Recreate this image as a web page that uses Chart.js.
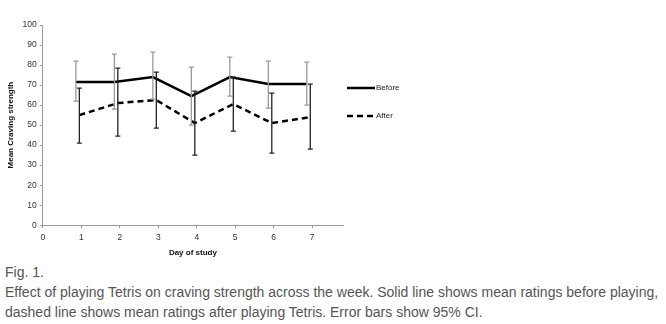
<!DOCTYPE html>
<html>
<head>
<meta charset="utf-8">
<script src="https://cdn.jsdelivr.net/npm/chart.js@4.4.0/dist/chart.umd.min.js"></script>
<style>
  body { margin: 0; background: #fff; width: 666px; height: 324px; overflow: hidden; }
  #wrap { position: relative; width: 666px; height: 262px; }
  .caption { font-family: "Liberation Sans", Arial, sans-serif; font-size: 14px; color: #555;
             line-height: 20px; margin: 0 0 0 5px; letter-spacing: 0; }
</style>
</head>
<body>
<div id="wrap"><canvas id="chart" width="666" height="262"></canvas></div>
<p class="caption">Fig. 1.<br>Effect of playing Tetris on craving strength across the week. Solid line shows mean ratings before playing,<br>dashed line shows mean ratings after playing Tetris. Error bars show 95% CI.</p>
<script>
const days = [1, 2, 3, 4, 5, 6, 7];
const beforeMean = [71.5, 71.5, 74, 64.5, 74, 70.5, 70.5];
const beforeLow = [62, 58, 63, 50, 64.5, 58.5, 60];
const beforeHigh = [82, 85.5, 86.5, 79, 84, 82, 81.5];
const afterMean = [55, 61, 62.5, 51, 60.5, 51, 54];
const afterLow = [41, 44.5, 48.5, 35, 47, 36, 38];
const afterHigh = [68.5, 78.5, 76.5, 67, 74, 66, 70.5];
const seriesNames = ['Before', 'After'];

// points are drawn slightly left of the day, like the original
function toPoints(mean, low, high, shift) {
    return days.map((d, i) => ({ x: d + shift, y: mean[i], lo: low[i], hi: high[i] }));
}

const errorBars = {
    id: 'errorBars',
    afterDatasetsDraw(chart) {
        const ctx = chart.ctx;
        const xs = chart.scales.x, ys = chart.scales.y;
        chart.data.datasets.forEach(ds => {
            ctx.save();
            ctx.strokeStyle = ds.barColor;
            ctx.lineWidth = 1.3;
            ds.data.forEach(p => {
                const x = xs.getPixelForValue(p.x);
                const y1 = ys.getPixelForValue(p.hi);
                const y2 = ys.getPixelForValue(p.lo);
                ctx.beginPath();
                ctx.moveTo(x, y1); ctx.lineTo(x, y2);
                ctx.moveTo(x - 2.5, y1); ctx.lineTo(x + 2.5, y1);
                ctx.moveTo(x - 2.5, y2); ctx.lineTo(x + 2.5, y2);
                ctx.stroke();
            });
            ctx.restore();
        });
    }
};

const sideLegend = {
    id: 'sideLegend',
    afterDraw(chart) {
        const ctx = chart.ctx;
        const left = chart.chartArea.right + 4;
        chart.data.datasets.forEach((ds, i) => {
            const y = 88 + i * 28;
            ctx.save();
            ctx.strokeStyle = '#000';
            ctx.lineWidth = 2.5;
            ctx.setLineDash(ds.borderDash || []);
            ctx.beginPath();
            ctx.moveTo(left, y); ctx.lineTo(left + 28, y);
            ctx.stroke();
            ctx.setLineDash([]);
            ctx.fillStyle = '#222';
            ctx.font = '8px "Liberation Sans", Arial, sans-serif';
            ctx.textBaseline = 'middle';
            ctx.fillText(ds.label, left + 29, y);
            ctx.restore();
        });
    }
};

const tickFont = { size: 8.5, family: '"Liberation Sans", Arial, sans-serif' };
const titleFont = { size: 8, weight: 'bold', family: '"Liberation Sans", Arial, sans-serif' };

new Chart(document.getElementById('chart').getContext('2d'), {
    type: 'line',
    data: {
        datasets: [{
            label: seriesNames[0],
            data: toPoints(beforeMean, beforeLow, beforeHigh, -0.14),
            borderColor: '#000',
            borderWidth: 2.5,
            pointRadius: 0,
            tension: 0,
            barColor: '#9a9a9a'
        }, {
            label: seriesNames[1],
            data: toPoints(afterMean, afterLow, afterHigh, -0.05),
            borderColor: '#000',
            borderWidth: 2.5,
            borderDash: [6, 4],
            pointRadius: 0,
            tension: 0,
            barColor: '#222'
        }]
    },
    options: {
        responsive: false,
        animation: false,
        layout: { padding: { left: 2, right: 323, top: 25, bottom: 0 } },
        plugins: { legend: { display: false }, tooltip: { enabled: false } },
        scales: {
            x: {
                type: 'linear',
                min: 0,
                max: 7.8,
                afterBuildTicks: s => { s.ticks = s.ticks.filter(t => Number.isInteger(t.value)); },
                ticks: { stepSize: 1, color: '#333', font: tickFont, padding: 4 },
                grid: { display: true, drawOnChartArea: false, drawTicks: true, tickLength: 3, color: '#999' },
                border: { color: '#999', width: 1 },
                title: { display: true, text: 'Day of study', color: '#111', font: titleFont, padding: { top: 2 } }
            },
            y: {
                min: 0,
                max: 100,
                ticks: { stepSize: 10, color: '#333', font: tickFont, padding: 3 },
                grid: { display: true, drawOnChartArea: false, drawTicks: true, tickLength: 3, color: '#999' },
                border: { color: '#999', width: 1 },
                title: { display: true, text: 'Mean Craving strength', color: '#111', font: titleFont, padding: { bottom: 4 } }
            }
        }
    },
    plugins: [errorBars, sideLegend]
});
</script>
</body>
</html>
